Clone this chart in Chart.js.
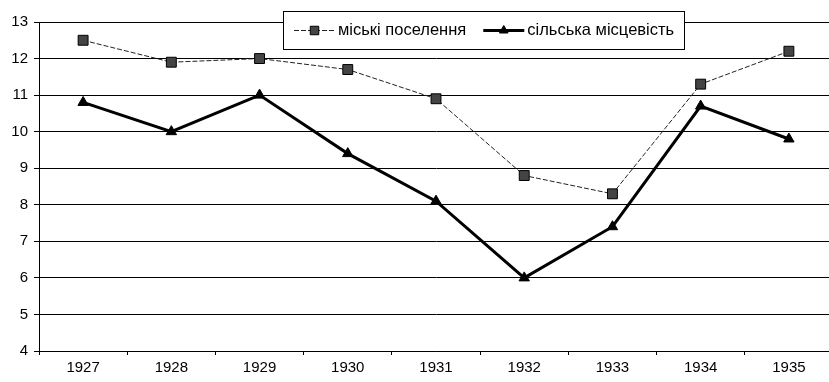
<!DOCTYPE html>
<html>
<head>
<meta charset="utf-8">
<script src="https://cdn.jsdelivr.net/npm/chart.js@4/dist/chart.umd.min.js"></script>
<style>
  html, body { margin: 0; padding: 0; background: #fff; overflow: hidden; }
</style>
</head>
<body>
<canvas id="chart" width="841" height="382"></canvas>
<script>
'use strict';

const years = ['1927', '1928', '1929', '1930', '1931', '1932', '1933', '1934', '1935'];
const urban = [12.5, 11.9, 12.0, 11.7, 10.9, 8.8, 8.3, 11.3, 12.2];
const rural = [10.8, 10.0, 11.0, 9.4, 8.1, 6.0, 7.4, 10.7, 9.8];
const urbanLabel = 'міські поселення';
const ruralLabel = 'сільська місцевість';

const FONT = '"Liberation Sans", Arial, sans-serif';

// legend is a white framed box laid over the top of the plot
const boxLegend = {
    id: 'boxLegend',
    afterDraw(chart) {
        const ctx = chart.ctx;
        const items = chart.data.datasets;
        ctx.save();
        ctx.font = '16.5px ' + FONT;
        const sample = 41, gap = 3, between = 17, padL = 11, padR = 10;
        let total = padL + padR;
        items.forEach((ds, i) => {
            total += sample + gap + ctx.measureText(ds.label).width;
            if (i < items.length - 1) total += between;
        });
        total = Math.round(total);
        const cx = 483, top = 11, h = 38;
        const left = Math.round(cx - total / 2);
        ctx.fillStyle = '#fff';
        ctx.fillRect(left, top, total, h);
        ctx.strokeStyle = '#000';
        ctx.lineWidth = 1;
        ctx.strokeRect(left + 0.5, top + 0.5, total, h);

        let x = left + padL;
        const y = top + h / 2 + 0.5;
        items.forEach(ds => {
            ctx.strokeStyle = ds.borderColor;
            ctx.lineWidth = ds.borderWidth;
            ctx.setLineDash(ds.borderDash || []);
            ctx.beginPath();
            ctx.moveTo(x, y);
            ctx.lineTo(x + sample, y);
            ctx.stroke();
            ctx.setLineDash([]);
            ctx.fillStyle = ds.pointBackgroundColor;
            ctx.strokeStyle = ds.pointBorderColor;
            ctx.lineWidth = 1;
            Chart.helpers.drawPoint(ctx, {
                pointStyle: ds.pointStyle,
                radius: ds.pointRadius - 1,
                borderWidth: 1
            }, x + sample / 2, y);
            x += sample + gap;
            ctx.fillStyle = '#000';
            ctx.textBaseline = 'middle';
            ctx.fillText(ds.label, x, y);
            x += ctx.measureText(ds.label).width + between;
        });
        ctx.restore();
    }
};

new Chart(document.getElementById('chart'), {
    type: 'line',
    data: {
        labels: years,
        datasets: [{
            label: urbanLabel,
            data: urban,
            borderColor: '#222',
            borderWidth: 1,
            borderDash: [5, 2],
            pointStyle: 'rect',
            pointRadius: 7,
            pointBackgroundColor: '#444',
            pointBorderColor: '#000',
            pointBorderWidth: 1,
            tension: 0
        }, {
            label: ruralLabel,
            data: rural,
            borderColor: '#000',
            borderWidth: 3,
            pointStyle: 'triangle',
            pointRadius: 6,
            pointBackgroundColor: '#000',
            pointBorderColor: '#000',
            pointBorderWidth: 1,
            tension: 0
        }]
    },
    options: {
        responsive: false,
        animation: false,
        layout: { padding: { top: 22, right: 0, left: 0, bottom: 0 } },
        plugins: {
            legend: { display: false },
            tooltip: { enabled: false }
        },
        scales: {
            x: {
                offset: true,
                afterFit: scale => {
                    scale.height = 31;
                    // plot runs right to the canvas edge
                    scale.paddingLeft = 0;
                    scale.paddingRight = 0;
                },
                grid: {
                    offset: true,
                    drawOnChartArea: false,
                    color: '#000',
                    tickLength: 4
                },
                border: { color: '#000', width: 1 },
                ticks: {
                    color: '#000',
                    padding: 4,
                    font: { family: FONT, size: 15 }
                }
            },
            y: {
                min: 4,
                max: 13,
                afterFit: scale => {
                    scale.width = 39;
                    scale.paddingTop = 0;
                    scale.paddingBottom = 0;
                },
                grid: {
                    color: '#000',
                    lineWidth: 1,
                    tickLength: 5
                },
                border: { color: '#000', width: 1 },
                ticks: {
                    stepSize: 1,
                    color: '#000',
                    padding: 6,
                    font: { family: FONT, size: 15 }
                }
            }
        }
    },
    plugins: [boxLegend]
});
</script>
</body>
</html>
